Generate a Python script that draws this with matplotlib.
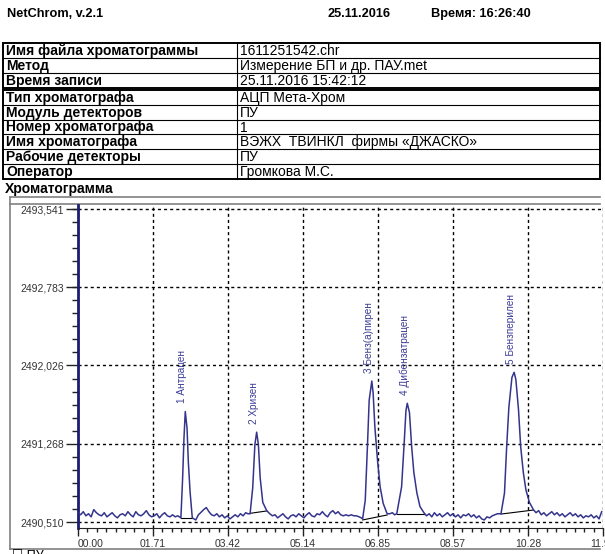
import numpy as np
import matplotlib.pyplot as plt
from matplotlib.patches import Rectangle
from matplotlib.ticker import AutoMinorLocator

plt.rcParams['font.family'] = ['Liberation Sans', 'DejaVu Sans']

# header and info tables
header_left = 'NetChrom, v.2.1'
header_date = '25.11.2016'
header_time = 'Время: 16:26:40'

info_top = [
    ('Имя файла хроматограммы', '1611251542.chr'),
    ('Метод', 'Измерение БП и др. ПАУ.met'),
    ('Время записи', '25.11.2016 15:42:12'),
]
info_bottom = [
    ('Тип хроматографа', 'АЦП Мета-Хром'),
    ('Модуль детекторов', 'ПУ'),
    ('Номер хроматографа', '1'),
    ('Имя хроматографа', 'ВЭЖХ  ТВИНКЛ  фирмы «ДЖАСКО»'),
    ('Рабочие детекторы', 'ПУ'),
    ('Оператор', 'Громкова М.С.'),
]

# axes ticks
x_ticks = [0.0, 1.713, 3.426, 5.139, 6.852, 8.565, 10.278, 11.99]
x_labels = ['00.00', '01.71', '03.42', '05.14', '06.85', '08.57', '10.28', '11.99']
y_ticks = [2490.510, 2491.268, 2492.026, 2492.783, 2493.541]
y_labels = ['2490,510', '2491,268', '2492,026', '2492,783', '2493,541']

# detector signal (time min, value)
trace_points = [
    (0.00, 2490.60), (0.06, 2490.58), (0.12, 2490.61), (0.18, 2490.57), (0.24, 2490.59), (0.30, 2490.56),
    (0.36, 2490.63), (0.42, 2490.60), (0.48, 2490.58), (0.54, 2490.57), (0.60, 2490.60), (0.66, 2490.56),
    (0.72, 2490.58), (0.78, 2490.60), (0.84, 2490.57), (0.90, 2490.55), (0.96, 2490.58), (1.02, 2490.59),
    (1.08, 2490.57), (1.14, 2490.61), (1.20, 2490.58), (1.26, 2490.56), (1.32, 2490.61), (1.38, 2490.58),
    (1.44, 2490.57), (1.50, 2490.59), (1.56, 2490.62), (1.62, 2490.58), (1.68, 2490.56), (1.74, 2490.57),
    (1.80, 2490.59), (1.86, 2490.55), (1.92, 2490.58), (1.98, 2490.60), (2.04, 2490.57), (2.10, 2490.56),
    (2.16, 2490.58), (2.22, 2490.56), (2.28, 2490.57),
    (2.35, 2490.55), (2.39, 2490.94), (2.42, 2491.32), (2.45, 2491.58), (2.49, 2491.42), (2.52, 2491.09),
    (2.56, 2490.80), (2.61, 2490.55),
    (2.69, 2490.53), (2.75, 2490.58), (2.80, 2490.60), (2.87, 2490.63), (2.93, 2490.65), (2.99, 2490.61),
    (3.05, 2490.58), (3.11, 2490.57), (3.17, 2490.59), (3.23, 2490.56), (3.29, 2490.58), (3.35, 2490.55),
    (3.41, 2490.57), (3.47, 2490.54), (3.53, 2490.56), (3.59, 2490.58), (3.65, 2490.56), (3.71, 2490.59),
    (3.77, 2490.57), (3.83, 2490.60), (3.88, 2490.59),
    (3.93, 2490.59), (3.99, 2490.84), (4.04, 2491.26), (4.08, 2491.38), (4.12, 2491.26), (4.16, 2490.94),
    (4.22, 2490.70), (4.31, 2490.62),
    (4.38, 2490.59), (4.44, 2490.57), (4.50, 2490.58), (4.56, 2490.55), (4.62, 2490.57), (4.68, 2490.59),
    (4.74, 2490.56), (4.80, 2490.54), (4.86, 2490.57), (4.92, 2490.58), (4.98, 2490.56), (5.04, 2490.59),
    (5.10, 2490.57), (5.16, 2490.55), (5.22, 2490.58), (5.28, 2490.60), (5.34, 2490.57), (5.40, 2490.56),
    (5.46, 2490.59), (5.52, 2490.58), (5.58, 2490.61), (5.64, 2490.58), (5.70, 2490.56), (5.76, 2490.60),
    (5.82, 2490.62), (5.88, 2490.59), (5.94, 2490.61), (6.00, 2490.58), (6.06, 2490.57), (6.12, 2490.58),
    (6.18, 2490.57), (6.24, 2490.58), (6.30, 2490.57), (6.36, 2490.57), (6.42, 2490.56), (6.47, 2490.55),
    (6.50, 2490.54), (6.56, 2490.72), (6.61, 2491.24), (6.65, 2491.69), (6.71, 2491.875), (6.74, 2491.76),
    (6.78, 2491.43), (6.84, 2491.11), (6.90, 2490.85), (6.97, 2490.69), (7.06, 2490.59),
    (7.12, 2490.59), (7.18, 2490.60), (7.23, 2490.58),
    (7.28, 2490.59), (7.39, 2490.85), (7.45, 2491.28), (7.49, 2491.59), (7.52, 2491.66), (7.57, 2491.57),
    (7.62, 2491.24), (7.67, 2490.99), (7.74, 2490.79), (7.81, 2490.66), (7.90, 2490.60),
    (7.96, 2490.57), (8.02, 2490.59), (8.08, 2490.56), (8.14, 2490.60), (8.20, 2490.57), (8.26, 2490.59),
    (8.32, 2490.56), (8.38, 2490.58), (8.44, 2490.60), (8.50, 2490.57), (8.56, 2490.59), (8.62, 2490.56),
    (8.68, 2490.58), (8.74, 2490.55), (8.80, 2490.58), (8.86, 2490.57), (8.92, 2490.59), (8.98, 2490.56),
    (9.04, 2490.58), (9.10, 2490.55), (9.16, 2490.57), (9.22, 2490.54), (9.28, 2490.53), (9.34, 2490.56),
    (9.40, 2490.55), (9.46, 2490.57), (9.52, 2490.58), (9.58, 2490.59),
    (9.66, 2490.59), (9.74, 2490.79), (9.79, 2491.24), (9.84, 2491.62), (9.91, 2491.91), (9.96, 2491.96),
    (10.00, 2491.89), (10.06, 2491.60), (10.11, 2491.24), (10.17, 2490.99), (10.23, 2490.82), (10.31, 2490.70),
    (10.40, 2490.63),
    (10.46, 2490.60), (10.52, 2490.62), (10.58, 2490.58), (10.64, 2490.60), (10.70, 2490.57), (10.76, 2490.59),
    (10.82, 2490.61), (10.88, 2490.58), (10.94, 2490.60), (11.00, 2490.57), (11.06, 2490.59), (11.12, 2490.56),
    (11.18, 2490.58), (11.24, 2490.60), (11.30, 2490.57), (11.36, 2490.59), (11.42, 2490.56), (11.48, 2490.58),
    (11.54, 2490.55), (11.60, 2490.57), (11.66, 2490.56), (11.72, 2490.58), (11.78, 2490.55), (11.84, 2490.57),
    (11.90, 2490.54), (11.96, 2490.61),
]

# peaks
peak_names = ['1 Антрацен', '2 Хризен', '3 Бенз(а)пирен', '4 Дибензатрацен', '5 Бензперилен']
peak_times = [2.45, 4.08, 6.71, 7.52, 9.96]
peak_tops = [2491.58, 2491.38, 2491.875, 2491.66, 2491.96]

# integration baselines (t start, v start, t end, v end)
baselines = [
    (2.35, 2490.55, 2.61, 2490.55),
    (3.93, 2490.594, 4.31, 2490.617),
    (6.50, 2490.53, 7.06, 2490.578),
    (7.28, 2490.587, 7.90, 2490.587),
    (9.66, 2490.587, 10.40, 2490.626),
]

W, H = 605, 554
fig = plt.figure(figsize=(W / 100, H / 100), dpi=100)

# page layer in pixel coordinates
page = fig.add_axes([0, 0, 1, 1])
page.set_xlim(0, W)
page.set_ylim(H, 0)
page.axis('off')

page.text(7, 14, header_left, fontsize=9.2, fontweight='bold', va='center')
page.text(327, 14, header_date, fontsize=9.2, fontweight='bold', va='center')
page.text(431, 14, header_time, fontsize=9.2, fontweight='bold', va='center')


def draw_table(rows, top, row_h):
    n = len(rows)
    page.add_patch(Rectangle((3, top), 597, n * row_h, fill=False, lw=1.4, ec='black'))
    for i in range(1, n):
        page.plot([3, 600], [top + i * row_h] * 2, color='black', lw=0.8)
    page.plot([237, 237], [top, top + n * row_h], color='black', lw=0.8)
    for i, (key, val) in enumerate(rows):
        yc = top + (i + 0.5) * row_h + 0.5
        page.text(6, yc, key, fontsize=10, fontweight='bold', va='center')
        page.text(240, yc, val, fontsize=10, va='center')


draw_table(info_top, 43, 15)
draw_table(info_bottom, 90, 14.8)

page.text(5, 189, 'Хроматограмма', fontsize=10, fontweight='bold', va='center')

# chart frame
frame_col = '#808080'
page.plot([10, 10], [197, 549], color=frame_col, lw=1.2)
page.plot([10, 600], [549, 549], color=frame_col, lw=1.2)
page.plot([10, 600], [197, 197], color=frame_col, lw=1.2)
page.plot([10, 600], [204, 204], color=frame_col, lw=1.2)
page.text(12, 549.5, '☐ ПУ', fontsize=9, va='top')

# chromatogram
ax = fig.add_axes([78 / W, (H - 528) / H, (603 - 78) / W, (528 - 205) / H])
ax.patch.set_alpha(0)
t, v = np.array(trace_points).T
ax.plot(t, v, color='#34348c', lw=1.1, zorder=3)
for t0, v0, t1, v1 in baselines:
    ax.plot([t0, t1], [v0, v1], color='black', lw=0.8, zorder=2)

for name, pt, pv in zip(peak_names, peak_times, peak_tops):
    ax.annotate(name, (pt, pv), xytext=(-2, 6), textcoords='offset points',
                rotation=90, ha='center', va='bottom', color='#3c3c96', fontsize=7.2)

ax.set_xlim(0, 11.99)
ax.set_ylim(2490.452, 2493.58)
ax.set_xticks(x_ticks, x_labels)
ax.set_yticks(y_ticks, y_labels)
ax.xaxis.set_minor_locator(AutoMinorLocator(8))
ax.yaxis.set_minor_locator(AutoMinorLocator(6))
ax.get_xticklabels()[0].set_horizontalalignment('left')

ax.grid(True, which='major', color='black', linestyle=(0, (2.2, 2.2)), lw=1.0, zorder=1)
ax.spines['top'].set_visible(False)
ax.spines['right'].set_visible(False)
ax.spines['left'].set_color('#1c1c70')
ax.spines['left'].set_linewidth(2)
ax.spines['bottom'].set_color('#222222')
ax.spines['bottom'].set_linewidth(0.8)

ax.tick_params(axis='y', which='major', length=9, width=1, color='#222222',
               labelsize=7.5, labelcolor='#333333', pad=1)
ax.tick_params(axis='y', which='minor', length=4, width=1, color='#222222')
ax.tick_params(axis='x', which='major', length=6, width=1, color='#222222',
               labelsize=7.5, labelcolor='#333333', pad=2)
ax.tick_params(axis='x', which='minor', length=3, width=1, color='#222222')

fig.savefig('out.png', dpi=100)
